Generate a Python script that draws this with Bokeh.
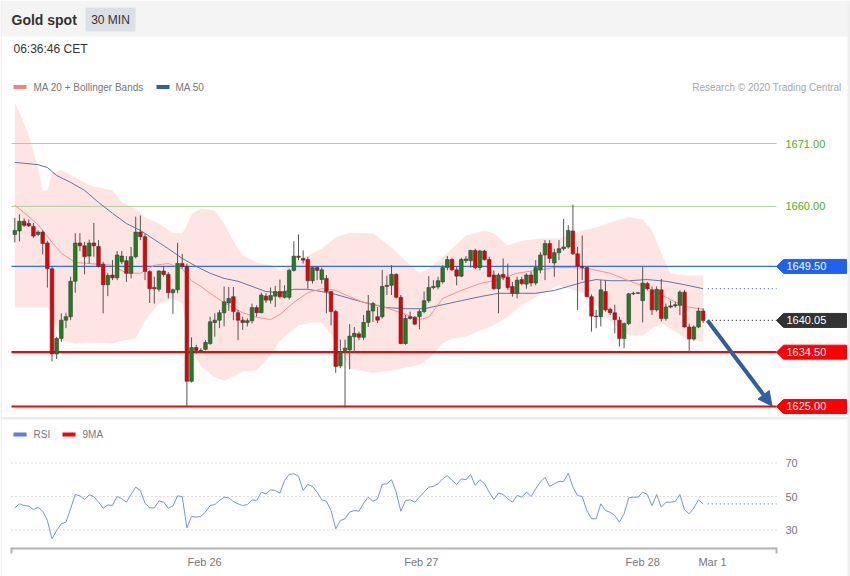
from bokeh.plotting import figure
from bokeh.models import Range1d, Arrow, NormalHead, GlobalInlineStyleSheet
from bokeh.core.properties import value
from bokeh.embed import file_html
from bokeh.resources import INLINE

# ---------------- data ----------------
opens = [1655.1, 1655.7, 1657.4, 1657.0, 1656.5, 1655.1, 1655.5, 1653.6, 1649.1, 1634.2,
         1636.9, 1640.1, 1640.7, 1646.9, 1653.6, 1653.1, 1651.3, 1653.6, 1653.0, 1649.9,
         1646.3, 1648.0, 1647.5, 1650.3, 1650.5, 1648.3, 1651.2, 1655.5, 1654.7, 1648.6,
         1645.8, 1645.5, 1648.7, 1648.1, 1644.9, 1645.4, 1650.0, 1649.5, 1629.4, 1635.3,
         1634.8, 1635.0, 1636.0, 1639.7, 1640.1, 1641.4, 1643.1, 1644.2, 1641.4, 1640.1,
         1639.7, 1640.0, 1642.3, 1641.4, 1644.3, 1643.6, 1644.3, 1645.1, 1644.1, 1644.1,
         1648.8, 1651.3, 1650.9, 1650.7, 1647.0, 1649.3, 1647.2, 1647.4, 1645.1, 1641.6,
         1632.1, 1634.8, 1634.9, 1637.2, 1637.7, 1637.1, 1639.7, 1641.7, 1640.7, 1640.7,
         1646.0, 1646.2, 1648.1, 1644.1, 1636.0, 1640.7, 1640.6, 1640.7, 1641.6, 1643.5,
         1645.8, 1645.9, 1646.8, 1649.3, 1650.7, 1648.9, 1647.8, 1650.5, 1650.5, 1652.3,
         1649.3, 1652.2, 1650.7, 1648.0, 1645.6, 1648.1, 1647.6, 1646.0, 1644.8, 1647.2,
         1646.4, 1648.0, 1646.6, 1648.9, 1651.5, 1653.5, 1650.1, 1651.9, 1652.6, 1652.9,
         1655.7, 1651.7, 1649.5, 1649.3, 1644.2, 1640.8, 1640.7, 1645.1, 1642.0, 1641.4,
         1640.1, 1636.9, 1639.5, 1644.7, 1644.8, 1643.5, 1646.5, 1645.4, 1641.9, 1645.4,
         1640.4, 1642.4, 1642.6, 1642.7, 1645.0, 1638.9, 1636.8, 1638.9, 1641.7]
highs = [1658.0, 1658.6, 1657.9, 1657.7, 1657.1, 1655.8, 1655.8, 1654.0, 1649.5, 1637.2,
         1641.3, 1641.4, 1647.7, 1655.3, 1655.3, 1653.8, 1654.2, 1657.1, 1654.1, 1650.3,
         1648.3, 1650.6, 1652.2, 1652.2, 1651.3, 1652.9, 1658.2, 1658.4, 1655.2, 1648.8,
         1647.7, 1648.8, 1649.5, 1648.5, 1645.6, 1653.6, 1651.7, 1650.0, 1637.1, 1635.8,
         1635.2, 1636.6, 1640.7, 1641.3, 1641.9, 1646.0, 1645.9, 1645.9, 1641.9, 1640.7,
         1640.4, 1643.0, 1642.7, 1644.9, 1644.8, 1645.8, 1646.1, 1647.2, 1646.2, 1649.1,
         1653.9, 1655.1, 1652.3, 1651.2, 1649.5, 1649.5, 1649.3, 1648.0, 1645.1, 1641.9,
         1636.7, 1636.7, 1639.4, 1638.9, 1638.1, 1641.0, 1644.5, 1643.3, 1642.4, 1648.9,
         1647.9, 1649.7, 1648.3, 1644.5, 1641.0, 1641.6, 1640.8, 1642.0, 1645.1, 1647.8,
         1647.1, 1647.7, 1649.7, 1651.3, 1651.0, 1649.5, 1651.0, 1651.3, 1652.4, 1652.6,
         1652.4, 1652.4, 1651.2, 1648.8, 1648.3, 1650.9, 1650.0, 1646.8, 1647.7, 1647.7,
         1648.3, 1648.6, 1650.6, 1652.0, 1654.1, 1654.1, 1652.6, 1654.1, 1657.8, 1656.7,
         1660.3, 1652.9, 1654.9, 1649.5, 1644.6, 1641.9, 1647.1, 1647.0, 1642.3, 1642.8,
         1640.7, 1639.7, 1644.9, 1645.1, 1645.0, 1649.4, 1646.8, 1646.0, 1646.0, 1647.3,
         1643.0, 1643.5, 1643.3, 1645.3, 1645.4, 1639.5, 1639.2, 1642.3, 1642.2]
lows = [1653.7, 1653.9, 1656.4, 1656.4, 1654.5, 1654.8, 1651.6, 1645.8, 1632.9, 1633.3,
        1636.3, 1638.7, 1640.1, 1644.9, 1652.2, 1648.1, 1650.0, 1651.2, 1649.3, 1641.3,
        1644.3, 1647.1, 1647.1, 1649.9, 1646.8, 1647.4, 1650.9, 1654.1, 1647.1, 1643.1,
        1643.0, 1645.1, 1647.7, 1643.9, 1641.2, 1644.8, 1649.1, 1625.0, 1629.2, 1634.2,
        1634.3, 1634.8, 1635.8, 1637.2, 1638.7, 1639.0, 1641.7, 1640.1, 1636.6, 1638.4,
        1639.0, 1639.5, 1640.7, 1641.3, 1643.1, 1643.0, 1642.4, 1643.9, 1643.9, 1643.7,
        1648.6, 1650.6, 1650.0, 1645.6, 1646.5, 1647.1, 1646.5, 1641.3, 1639.2, 1630.9,
        1631.7, 1624.8, 1631.5, 1634.3, 1636.6, 1636.6, 1638.9, 1639.8, 1639.6, 1640.4,
        1644.5, 1644.5, 1643.9, 1635.9, 1635.8, 1640.2, 1639.2, 1638.5, 1641.3, 1643.1,
        1645.5, 1645.5, 1646.5, 1648.8, 1648.7, 1646.2, 1647.6, 1650.1, 1649.3, 1649.0,
        1648.8, 1650.5, 1647.6, 1645.4, 1641.3, 1647.1, 1645.4, 1644.2, 1643.9, 1646.2,
        1645.6, 1646.0, 1646.2, 1648.3, 1647.1, 1650.1, 1647.7, 1650.6, 1652.3, 1652.6,
        1651.5, 1641.9, 1647.1, 1644.1, 1638.1, 1638.7, 1639.0, 1641.6, 1641.0, 1637.8,
        1635.5, 1635.2, 1639.2, 1644.5, 1644.7, 1639.7, 1645.3, 1641.0, 1641.6, 1639.9,
        1640.0, 1642.2, 1642.3, 1641.0, 1638.8, 1634.5, 1636.5, 1638.7, 1639.6]
closes = [1655.8, 1657.4, 1656.7, 1656.6, 1654.8, 1655.5, 1653.5, 1649.1, 1634.2, 1636.9,
          1640.1, 1640.7, 1646.9, 1653.6, 1653.1, 1651.2, 1653.6, 1653.1, 1649.5, 1646.3,
          1647.9, 1647.5, 1651.5, 1651.3, 1648.3, 1651.2, 1655.5, 1654.7, 1648.6, 1645.6,
          1645.6, 1648.7, 1648.1, 1644.9, 1645.4, 1650.0, 1649.5, 1629.4, 1635.3, 1634.8,
          1634.7, 1636.2, 1639.8, 1640.1, 1641.4, 1643.3, 1643.9, 1641.6, 1640.1, 1639.7,
          1640.0, 1642.3, 1641.4, 1644.5, 1643.6, 1644.4, 1645.1, 1644.2, 1645.1, 1648.8,
          1651.3, 1651.1, 1650.6, 1647.0, 1649.3, 1648.8, 1648.9, 1645.1, 1641.6, 1632.0,
          1634.6, 1635.2, 1637.3, 1637.8, 1637.1, 1639.7, 1641.7, 1643.0, 1640.1, 1646.0,
          1646.2, 1648.1, 1644.1, 1636.0, 1640.4, 1640.4, 1639.4, 1641.6, 1643.5, 1645.8,
          1646.0, 1647.0, 1649.3, 1650.7, 1648.9, 1647.8, 1650.7, 1650.8, 1652.3, 1649.3,
          1652.2, 1650.7, 1647.7, 1645.6, 1648.0, 1647.6, 1645.8, 1644.8, 1647.1, 1646.5,
          1648.0, 1646.6, 1649.3, 1651.5, 1653.5, 1650.9, 1651.9, 1652.6, 1652.9, 1655.8,
          1651.7, 1649.5, 1649.3, 1644.2, 1640.8, 1640.7, 1645.4, 1641.9, 1641.4, 1640.2,
          1636.9, 1639.5, 1644.7, 1644.8, 1644.9, 1646.6, 1645.6, 1641.9, 1645.5, 1640.4,
          1642.4, 1642.6, 1642.8, 1645.0, 1638.9, 1636.8, 1638.9, 1641.7, 1640.05]

band_idx = [0, 2, 3, 5, 6, 7, 8, 10, 13, 16, 21, 23, 26, 28, 31, 34, 36, 37, 38, 40,
            43, 45, 47, 49, 52, 55, 57, 61, 64, 66, 69, 72, 77, 81, 85, 87, 89, 92, 94, 97,
            101, 103, 106, 109, 113, 117, 122, 125, 128, 132, 135, 137, 139, 141, 144, 148]
band_upper = [1678.2, 1674.5, 1672.4, 1666.8, 1662.8, 1662.8, 1665.8, 1666.3, 1665.1, 1663.7,
              1662.8, 1660.7, 1659.6, 1658.1, 1657.0, 1655.3, 1655.3, 1656.7, 1658.6, 1659.6,
              1659.3, 1657.0, 1654.0, 1651.4, 1650.2, 1649.7, 1648.8, 1650.5, 1651.8, 1652.6,
              1654.6, 1655.4, 1655.3, 1652.8, 1649.7, 1648.4, 1649.1, 1651.1, 1652.6, 1654.9,
              1655.8, 1655.3, 1653.2, 1654.0, 1654.4, 1654.4, 1655.8, 1656.3, 1657.2, 1658.1,
              1657.7, 1655.8, 1651.8, 1648.3, 1647.9, 1647.9]
band_lower = [1642.3, 1642.3, 1642.3, 1642.3, 1642.3, 1642.3, 1640.9, 1636.5, 1636.0, 1636.2,
              1636.0, 1636.5, 1636.9, 1640.0, 1643.0, 1643.9, 1643.0, 1638.3, 1634.8, 1632.0,
              1630.1, 1629.5, 1630.2, 1631.1, 1631.3, 1633.9, 1636.5, 1639.2, 1639.7, 1639.7,
              1636.5, 1631.6, 1630.9, 1631.3, 1632.0, 1632.2, 1633.4, 1636.0, 1636.9, 1637.2,
              1638.6, 1639.2, 1640.7, 1642.7, 1644.6, 1646.2, 1644.9, 1642.7, 1640.0, 1637.4,
              1637.4, 1638.6, 1639.5, 1638.6, 1637.1, 1636.2]

ma20_idx = [0, 2, 5, 8, 10, 13, 16, 21, 24, 27, 30, 33, 36, 38, 40, 43, 46, 49, 52, 55,
            57, 60, 63, 66, 69, 72, 75, 79, 83, 87, 89, 92, 96, 100, 104, 108, 112, 116, 120,
            124, 128, 132, 136, 140, 144, 148]
ma20 = [1660.2, 1658.9, 1656.8, 1653.7, 1651.8, 1650.2, 1650.0, 1649.7, 1648.3, 1648.3,
        1649.7, 1650.0, 1649.1, 1647.0, 1646.0, 1644.2, 1642.7, 1641.4, 1640.6, 1640.2,
        1641.1, 1643.2, 1644.9, 1645.6, 1645.3, 1644.2, 1643.2, 1642.5, 1641.4, 1640.2,
        1640.6, 1643.9, 1645.3, 1646.5, 1647.2, 1648.3, 1648.8, 1649.3, 1649.3,
        1649.0, 1648.3, 1647.0, 1645.8, 1644.1, 1642.5, 1642.0]

ma50_idx = [0, 5, 7, 9, 12, 15, 18, 21, 24, 27, 30, 33, 36, 39, 42, 45, 48, 51, 54, 57,
            60, 63, 66, 69, 72, 76, 80, 84, 88, 92, 96, 100, 104, 108, 112, 116, 119, 122,
            125, 128, 132, 136, 140, 144, 148]
ma50 = [1667.7, 1667.3, 1666.8, 1665.4, 1664.2, 1662.8, 1660.7, 1658.8, 1657.0, 1655.8,
        1654.2, 1652.6, 1650.9, 1649.5, 1648.3, 1647.4, 1646.9, 1646.0, 1645.1, 1644.9,
        1645.5, 1645.5, 1645.1, 1644.6, 1643.9, 1643.0, 1642.3, 1642.1, 1642.1, 1642.8,
        1643.5, 1644.2, 1644.8, 1644.8, 1644.8, 1645.3, 1646.0, 1646.7,
        1647.2, 1647.0, 1647.0, 1647.2, 1646.9, 1646.3, 1645.6]

rsi = [43.2, 45.6, 44.6, 44.3, 42.2, 43.6, 41.2, 35.7, 24.7, 29.7,
       33.7, 34.7, 42.7, 51.2, 50.4, 48.2, 51.0, 50.0, 46.6, 43.0,
       45.0, 44.6, 50.0, 48.6, 46.6, 51.2, 55.6, 53.6, 46.0, 43.2,
       43.2, 47.4, 46.6, 43.0, 44.3, 50.4, 50.0, 31.3, 38.1, 37.7,
       38.1, 40.7, 44.6, 45.2, 47.6, 49.6, 49.2, 47.0, 45.6, 44.6,
       45.2, 48.0, 47.6, 52.6, 51.6, 54.0, 53.6, 52.0, 59.6, 63.2,
       63.6, 62.0, 53.6, 57.2, 56.0, 52.6, 48.0, 47.2, 41.6, 30.7,
       35.7, 36.7, 40.7, 41.6, 41.2, 46.0, 49.6, 47.2, 48.6, 57.2,
       57.6, 60.0, 52.6, 41.2, 47.6, 48.0, 46.6, 49.6, 52.6, 55.6,
       56.0, 57.6, 60.5, 62.5, 59.6, 57.2, 60.5, 60.0, 63.1, 56.6,
       60.0, 57.6, 52.6, 48.2, 52.0, 51.2, 48.6, 46.6, 50.6, 49.6,
       52.6, 50.0, 54.6, 58.6, 61.5, 56.0, 57.6, 59.0, 59.0, 63.9,
       55.6, 50.6, 50.0, 41.6, 36.7, 36.7, 45.6, 41.6, 40.6, 38.7,
       34.7, 39.7, 49.2, 49.6, 49.6, 52.6, 51.2, 44.6, 51.2, 43.6,
       46.6, 46.6, 47.0, 51.2, 42.0, 39.7, 43.2, 48.0, 45.6]

green_levels = [1671.00, 1660.00]
resistance = 1649.50
supports = [1634.50, 1625.00]
rsi_levels = [70, 50, 30]
date_ticks = [40.8, 87.4, 135.0, 150.0]
date_labels = ["Feb 26", "Feb 27", "Feb 28", "Mar 1"]

# ---------------- layout helpers (screen px -> data) ----------------
W, H = 850, 576
SP = 4.651
def X(sx): return (sx - 14.3) / SP
def P(sy): return 1671.0 - (sy - 143.0) / 5.717
def R(sy): return 50.0 - (sy - 496.0) / 1.675

FONT = value("Liberation Sans")

p = figure(width=W, height=H, x_range=Range1d(X(0), X(W)), y_range=Range1d(P(H), P(0)),
           x_axis_type=None, y_axis_type=None, toolbar_location=None, output_backend="svg",
           min_border=0, outline_line_color=None, margin=0)
p.stylesheets = [GlobalInlineStyleSheet(css="html, body { margin: 0 !important; padding: 0; overflow: hidden; }")]
p.extra_y_ranges = {"rsi": Range1d(R(H), R(0))}
p.background_fill_color = "white"
p.border_fill_color = "white"

def txt(sx, sy, s, size="11px", color="#333333", align="left", style="normal", **kw):
    p.text(x=[X(sx)], y=[P(sy)], text=[s], text_font=FONT, text_font_size=size,
           text_color=color, text_align=align, text_baseline="middle",
           text_font_style=style, **kw)

# header
p.quad(left=X(0), right=X(W), top=P(0), bottom=P(36), fill_color="#f4f4f4", line_color=None)
p.quad(left=X(85), right=X(135), top=P(7), bottom=P(31), fill_color="#dcdfe4", line_color=None)
txt(11, 19.5, "Gold spot", size="14px", color="#333333", style="bold")
txt(110, 19.5, "30 MIN", size="12px", color="#333333", align="center")
txt(13, 48.5, "06:36:46 CET", size="12px", color="#333333")

# legend main
p.quad(left=X(13), right=X(26), top=P(84.5), bottom=P(88.5), fill_color="#ff8080", line_color=None)
txt(33, 86.5, "MA 20 + Bollinger Bands", size="10px", color="#777777")
p.quad(left=X(156), right=X(169), top=P(84.5), bottom=P(88.5), fill_color="#2f5f9f", line_color=None)
txt(175, 86.5, "MA 50", size="10px", color="#777777")
txt(841, 86.5, "Research \u00a9 2020 Trading Central", size="10px", color="#a6a6a6", align="right")

# bollinger band
p.varea(x=band_idx, y1=band_lower, y2=band_upper, fill_color="#ffe4e4")

# level lines
n = len(closes)
last = n - 1
xl, xr = X(11), X(776)
p.segment(x0=[xl, xl], x1=[xr, xr], y0=green_levels, y1=green_levels, line_color="#a5d68a", line_width=1)
p.segment(x0=[xl], x1=[xr], y0=[resistance], y1=[resistance], line_color="#2b6ff7", line_width=1.3)
p.segment(x0=[xl, xl], x1=[xr, xr], y0=supports, y1=supports, line_color="#ff0000", line_width=2.2)

# moving averages
p.line(ma50_idx, ma50, line_color="#5a78ad", line_width=1)
p.line(ma20_idx, ma20, line_color="#ff8f8f", line_width=1)
p.segment(x0=[ma50_idx[-1] + 1], x1=[xr], y0=[ma50[-1]], y1=[ma50[-1]],
          line_color="#4a6aa0", line_width=1.2, line_dash="1 3")
p.segment(x0=[last + 1], x1=[xr], y0=[closes[-1]], y1=[closes[-1]],
          line_color="#333333", line_width=1.2, line_dash="1 3")

# candles
idx = list(range(n))
up = [c >= o for o, c in zip(opens, closes)]
cols = ["#1f7f1f" if u else "#e60000" for u in up]
tops = [max(o, c) for o, c in zip(opens, closes)]
bots = [min(o, c) for o, c in zip(opens, closes)]
p.segment(x0=idx, x1=idx, y0=lows, y1=highs, line_color="#555555", line_width=1)
p.vbar(x=idx, width=0.78, top=tops, bottom=bots, fill_color=cols, line_color="#3a3a3a", line_width=0.6)

# price tags on the right
def tag(level, color):
    h = 7 / 5.717
    xs = [X(776), X(783), X(846), X(846), X(783)]
    ys = [level, level + h, level + h, level - h, level - h]
    p.patch(xs, ys, fill_color=color, line_color=color)
    txt(786, 143 + (1671 - level) * 5.717, "%.2f" % level, size="11px", color="white")

for lv in green_levels:
    txt(785, 143 + (1671 - lv) * 5.717, "%.2f" % lv, size="11px", color="#4fae14")
tag(resistance, "#1f62f0")
tag(closes[-1], "#333333")
for lv in supports:
    tag(lv, "#ff0000")

# arrow
p.add_layout(Arrow(end=NormalHead(size=14, fill_color="#2f5f9f", line_color="#2f5f9f"),
                   x_start=X(707), y_start=closes[-1], x_end=X(771.5), y_end=P(405.5),
                   line_color="#2f5f9f", line_width=4))

# separator / borders
p.quad(left=X(0), right=X(W), top=P(416.5), bottom=P(419), fill_color="#ececec", line_color=None)
p.quad(left=X(0), right=X(1.2), top=P(0), bottom=P(H), fill_color="#ececec", line_color=None)
p.quad(left=X(847), right=X(W), top=P(0), bottom=P(H), fill_color="#efefef", line_color=None)

# RSI panel
p.quad(left=X(13), right=X(26), top=P(432), bottom=P(436), fill_color="#5b7fdd", line_color=None)
txt(33, 434, "RSI", size="10px", color="#777777")
p.quad(left=X(62), right=X(75), top=P(432), bottom=P(436), fill_color="#ff0000", line_color=None)
txt(82, 434, "9MA", size="10px", color="#777777")

p.segment(x0=[xl] * 3, x1=[xr] * 3, y0=rsi_levels, y1=rsi_levels, y_range_name="rsi",
          line_color="#bbbbbb", line_width=1, line_dash="1 3")
p.text(x=[X(785)] * 3, y=rsi_levels, text=[str(v) for v in rsi_levels], y_range_name="rsi",
       text_font=FONT, text_font_size="11px", text_color="#777777", text_baseline="middle")
p.line(idx, rsi, y_range_name="rsi", line_color="#7093ea", line_width=1)
p.segment(x0=[last + 1], x1=[xr], y0=[rsi[-1]], y1=[rsi[-1]], y_range_name="rsi",
          line_color="#5b7fdd", line_width=1.2, line_dash="1 3")

# time axis
p.segment(x0=[xl], x1=[xr], y0=[P(548)], y1=[P(548)], line_color="#b3b3b3", line_width=2)
p.segment(x0=[xl, xr], x1=[xl, xr], y0=[P(547), P(547)], y1=[P(553), P(553)],
          line_color="#b3b3b3", line_width=2)
p.text(x=date_ticks, y=[P(561)] * len(date_ticks), text=date_labels, text_font=FONT,
       text_font_size="11px", text_color="#777777", text_align="center", text_baseline="middle")

open("out.html", "w").write(file_html(p, INLINE))
